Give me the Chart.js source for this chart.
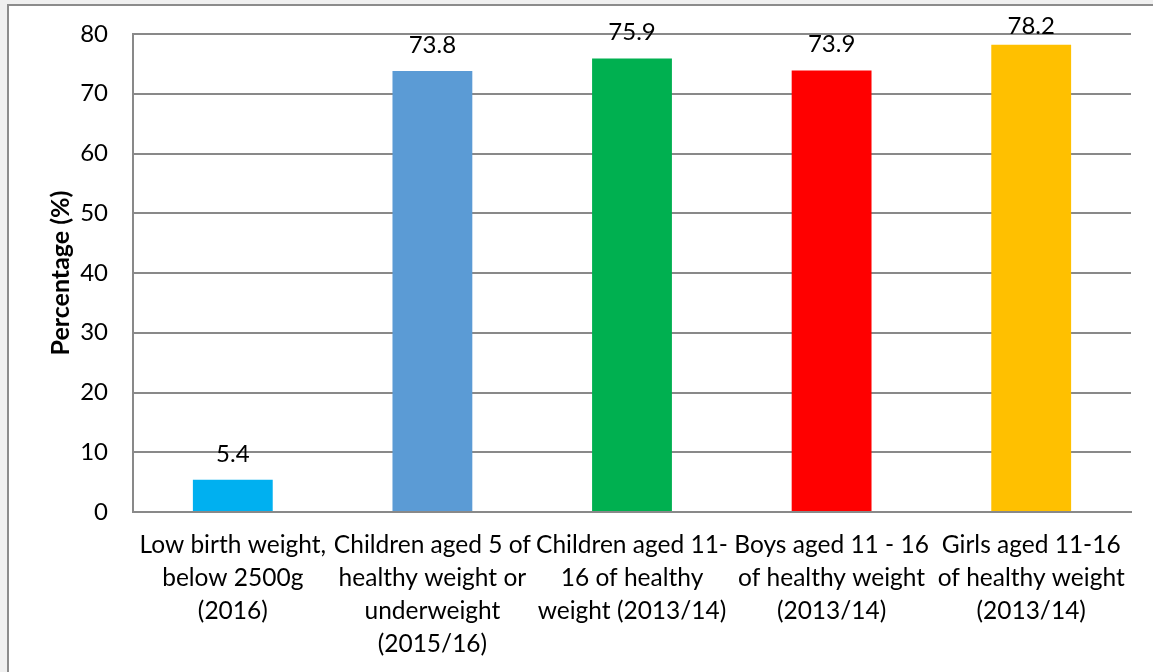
<!DOCTYPE html>
<html>
<head>
<meta charset="utf-8">
<script src="https://cdn.jsdelivr.net/npm/chart.js@4/dist/chart.umd.min.js"></script>
<style>
  body { margin: 0; background: #f0f0f0; width: 1153px; height: 672px; overflow: hidden; position: relative; }
  .frame { position: absolute; left: 7px; top: 4px; width: 1160px; height: 680px; background: #fff; border: 2px solid #8c8c8c; }
  #grafico { position: absolute; left: 0; top: 0; }
</style>
</head>
<body>
<div class="frame"></div>
<canvas id="grafico" width="1153" height="672"></canvas>
<script>
/* DADOS */
const categorias = [
  ["Low birth weight,", "below 2500g", "(2016)"],
  ["Children aged 5 of", "healthy weight or", "underweight", "(2015/16)"],
  ["Children aged 11-", "16 of healthy", "weight (2013/14)"],
  ["Boys aged 11 - 16", "of healthy weight", "(2013/14)"],
  ["Girls aged 11-16", "of healthy weight", "(2013/14)"]
];
const valores = [5.4, 73.8, 75.9, 73.9, 78.2];
const cores = ["#00b0f0", "#5b9bd5", "#00b050", "#ff0000", "#ffc000"];
const ticksY = [0, 10, 20, 30, 40, 50, 60, 70, 80];

const fonte = "Lato, 'Open Sans', sans-serif";
const cinza = "#898989";

/* RÓTULOS DOS VALORES */
const rotulos = {
  id: "rotulos",
  afterDatasetsDraw(chart) {
    const ctx = chart.ctx;
    const meta = chart.getDatasetMeta(0);
    ctx.save();
    ctx.font = "24px " + fonte;
    ctx.fillStyle = "#000";
    ctx.textAlign = "center";
    ctx.textBaseline = "alphabetic";
    meta.data.forEach((bar, i) => {
      const y = Math.max(bar.y - 18, 34);
      ctx.fillText(valores[i].toFixed(1), bar.x, y);
    });
    ctx.restore();
  }
};

new Chart(document.getElementById("grafico"), {
  type: "bar",
  data: {
    labels: categorias,
    datasets: [{
      data: valores,
      backgroundColor: cores,
      barPercentage: 0.4,
      categoryPercentage: 1
    }]
  },
  options: {
    responsive: false,
    animation: false,
    layout: { padding: { left: 44, top: 34, right: 22, bottom: 0 } },
    plugins: { legend: { display: false }, tooltip: { enabled: false } },
    scales: {
      x: {
        grid: { display: false, drawTicks: false },
        border: { color: cinza, width: 2 },
        ticks: {
          color: "#000",
          font: { family: fonte, size: 24.5, lineHeight: 1.34 },
          padding: 17,
          maxRotation: 0,
          autoSkip: false
        },
        afterFit(scale) {
          scale.height = 672 - 512;
          scale.paddingLeft = 0;
          scale.paddingRight = 0;
        }
      },
      y: {
        min: 0,
        max: 80,
        afterBuildTicks(scale) { scale.ticks = ticksY.map(v => ({ value: v })); },
        grid: { color: cinza, lineWidth: 2, drawTicks: false },
        border: { color: cinza, width: 2 },
        ticks: {
          color: "#000",
          font: { family: fonte, size: 24 },
          padding: 25
        },
        title: {
          display: true,
          text: "Percentage (%)",
          color: "#000",
          font: { family: fonte, size: 25, weight: "bold" },
          padding: { top: 2, bottom: 4 }
        },
        afterFit(scale) {
          scale.width = 133 - 44;
          scale.paddingTop = 0;
          scale.paddingBottom = 0;
        }
      }
    }
  },
  plugins: [rotulos]
});
</script>
</body>
</html>
